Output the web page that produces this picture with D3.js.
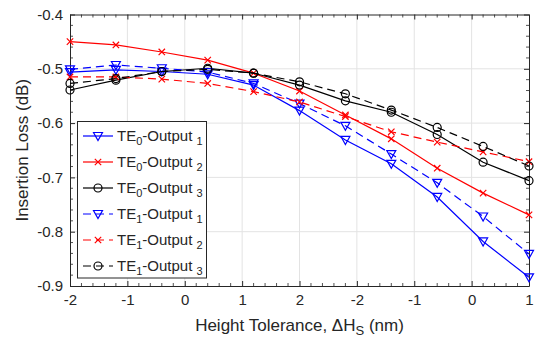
<!DOCTYPE html>
<html>
<head>
<meta charset="utf-8">
<script src="https://cdn.jsdelivr.net/npm/d3@7"></script>
<style>
  body { margin: 0; background: #fff; }
  text { font-family: "Liberation Sans", Arial, sans-serif; fill: #262626; }
</style>
</head>
<body>
<svg id="chart" width="536" height="343"></svg>
<script>
/*
Data
*/
var xValues = [-2, -1.6, -1.2, -0.8, -0.4, 0, 0.4, 0.8, 1.2, 1.6, 2];
var xTicks = [-2, -1.5, -1, -0.5, 0, 0.5, 1, 1.5, 2];
var xTickLabels = ["-2", "-1", "0", "1", "2", "-2", "-1", "0", "1"];
var yTicks = [-0.9, -0.8, -0.7, -0.6, -0.5, -0.4];
var yTickLabels = ["-0.9", "-0.8", "-0.7", "-0.6", "-0.5", "-0.4"];

var te0out1 = [-0.506, -0.502, -0.505, -0.510, -0.530, -0.577, -0.631, -0.675, -0.736, -0.818, -0.884];
var te0out2 = [-0.450, -0.456, -0.469, -0.484, -0.508, -0.541, -0.585, -0.629, -0.683, -0.729, -0.769];
var te0out3 = [-0.539, -0.521, -0.505, -0.499, -0.508, -0.530, -0.559, -0.580, -0.621, -0.672, -0.706];
var te1out1 = [-0.501, -0.493, -0.499, -0.506, -0.527, -0.564, -0.605, -0.657, -0.710, -0.772, -0.841];
var te1out2 = [-0.515, -0.515, -0.519, -0.527, -0.542, -0.561, -0.588, -0.616, -0.635, -0.653, -0.671];
var te1out3 = [-0.527, -0.518, -0.505, -0.501, -0.508, -0.524, -0.546, -0.576, -0.608, -0.643, -0.679];

var series = [
  {mode: "0", out: "1", values: te0out1, color: "#0000ff", marker: "tri", dash: null},
  {mode: "0", out: "2", values: te0out2, color: "#ff0000", marker: "x", dash: null},
  {mode: "0", out: "3", values: te0out3, color: "#000000", marker: "circle", dash: null},
  {mode: "1", out: "1", values: te1out1, color: "#0000ff", marker: "tri", dash: "8,5"},
  {mode: "1", out: "2", values: te1out2, color: "#ff0000", marker: "x", dash: "8,5"},
  {mode: "1", out: "3", values: te1out3, color: "#000000", marker: "circle", dash: "8,5"}
];

/*
Layout
*/
var plotLeft = 70, plotRight = 529, plotTop = 14.5, plotBottom = 286;
var svg = d3.select("#chart");
var x = d3.scaleLinear().domain([-2, 2]).range([plotLeft, plotRight]);
var y = d3.scaleLinear().domain([-0.9, -0.4]).range([plotBottom, plotTop]);

// grid
var grid = svg.append("g").attr("stroke", "#e3e3e3").attr("stroke-width", 1);
xTicks.slice(1, -1).forEach(function(t){
  grid.append("line").attr("x1", x(t)).attr("x2", x(t)).attr("y1", plotTop).attr("y2", plotBottom);
});
yTicks.slice(1, -1).forEach(function(t){
  grid.append("line").attr("x1", plotLeft).attr("x2", plotRight).attr("y1", y(t)).attr("y2", y(t));
});

// minor ticks on all four sides
var minorX = d3.range(-20, 21).map(function(d){ return d / 10; })
  .filter(function(d){ return Math.abs(d * 2 - Math.round(d * 2)) > 1e-6; });
var minorY = d3.range(-45, -19).map(function(d){ return d / 50; })
  .filter(function(d){ return Math.abs(d * 10 - Math.round(d * 10)) > 1e-6; });
var minor = svg.append("g").attr("stroke", "#262626").attr("stroke-width", 0.8);
minorX.forEach(function(t){
  minor.append("line").attr("x1", x(t)).attr("x2", x(t)).attr("y1", plotBottom).attr("y2", plotBottom - 3);
  minor.append("line").attr("x1", x(t)).attr("x2", x(t)).attr("y1", plotTop).attr("y2", plotTop + 3);
});
minorY.forEach(function(t){
  minor.append("line").attr("x1", plotLeft).attr("x2", plotLeft + 3).attr("y1", y(t)).attr("y2", y(t));
  minor.append("line").attr("x1", plotRight).attr("x2", plotRight - 3).attr("y1", y(t)).attr("y2", y(t));
});

// axes
var xAxis = d3.axisBottom(x).tickValues(xTicks)
  .tickFormat(function(d, i){ return xTickLabels[i]; })
  .tickSizeInner(-5).tickSizeOuter(0).tickPadding(8);
var yAxis = d3.axisLeft(y).tickValues(yTicks)
  .tickFormat(function(d, i){ return yTickLabels[i]; })
  .tickSizeInner(-5).tickSizeOuter(0).tickPadding(7);

var gx = svg.append("g").attr("transform", "translate(0," + plotBottom + ")").call(xAxis);
var gy = svg.append("g").attr("transform", "translate(" + plotLeft + ",0)").call(yAxis);
svg.append("g").attr("transform", "translate(0," + plotTop + ")")
  .call(d3.axisTop(x).tickValues(xTicks).tickFormat("").tickSizeInner(-5).tickSizeOuter(0));
svg.append("g").attr("transform", "translate(" + plotRight + ",0)")
  .call(d3.axisRight(y).tickValues(yTicks).tickFormat("").tickSizeInner(-5).tickSizeOuter(0));

svg.selectAll(".domain").attr("stroke", "#262626");
svg.selectAll(".tick line").attr("stroke", "#262626");
svg.selectAll(".tick text").style("font-size", "15px").attr("fill", "#262626");

/*
Markers
*/
function drawMarker(g, type, color, cx, cy){
  if (type == "tri"){
    g.append("path")
      .attr("d", "M" + (cx - 4.5) + "," + (cy - 3.5) + "L" + (cx + 4.5) + "," + (cy - 3.5) + "L" + cx + "," + (cy + 4.5) + "Z")
      .attr("fill", "none").attr("stroke", color).attr("stroke-width", 1.2);
  } else if (type == "x"){
    g.append("path")
      .attr("d", "M" + (cx - 3.2) + "," + (cy - 3.2) + "L" + (cx + 3.2) + "," + (cy + 3.2) + "M" + (cx - 3.2) + "," + (cy + 3.2) + "L" + (cx + 3.2) + "," + (cy - 3.2))
      .attr("stroke", color).attr("stroke-width", 1.2);
  } else {
    g.append("circle").attr("cx", cx).attr("cy", cy).attr("r", 4)
      .attr("fill", "none").attr("stroke", color).attr("stroke-width", 1.2);
  }
}

/*
Lines
*/
var line = d3.line()
  .x(function(d, i){ return x(xValues[i]); })
  .y(function(d){ return y(d); });

series.forEach(function(s){
  var g = svg.append("g");
  g.append("path")
    .attr("d", line(s.values))
    .attr("fill", "none")
    .attr("stroke", s.color)
    .attr("stroke-width", 1.2)
    .attr("stroke-dasharray", s.dash);
  s.values.forEach(function(v, i){
    drawMarker(g, s.marker, s.color, x(xValues[i]), y(v));
  });
});

/*
Legend
*/
var legend = svg.append("g");
legend.append("rect")
  .attr("x", 77.5).attr("y", 121.5).attr("width", 129).attr("height", 156.5)
  .attr("fill", "#fff").attr("stroke", "#262626").attr("stroke-width", 1);

series.forEach(function(s, i){
  var ly = 136 + i * 26;
  legend.append("line")
    .attr("x1", 83).attr("x2", 113).attr("y1", ly).attr("y2", ly)
    .attr("stroke", s.color).attr("stroke-width", 1.2)
    .attr("stroke-dasharray", s.dash);
  drawMarker(legend, s.marker, s.color, 98, ly);
  var t = legend.append("text")
    .attr("x", 117).attr("y", ly + 5)
    .style("font-size", "15px");
  t.append("tspan").text("TE");
  t.append("tspan").attr("dy", 4).style("font-size", "11px").text(s.mode);
  t.append("tspan").attr("dy", -4).text("-Output ");
  t.append("tspan").attr("dy", 4).style("font-size", "11px").text(s.out);
});

/*
Axis labels
*/
var xl = svg.append("text")
  .attr("x", (plotLeft + plotRight) / 2).attr("y", 331)
  .attr("text-anchor", "middle")
  .style("font-size", "17px");
xl.append("tspan").text("Height Tolerance, \u0394H");
xl.append("tspan").attr("dy", 4).style("font-size", "13px").text("S");
xl.append("tspan").attr("dy", -4).text(" (nm)");

svg.append("text")
  .attr("transform", "translate(28," + ((plotTop + plotBottom) / 2) + ") rotate(-90)")
  .attr("text-anchor", "middle")
  .style("font-size", "17px")
  .text("Insertion Loss (dB)");
</script>
</body>
</html>
